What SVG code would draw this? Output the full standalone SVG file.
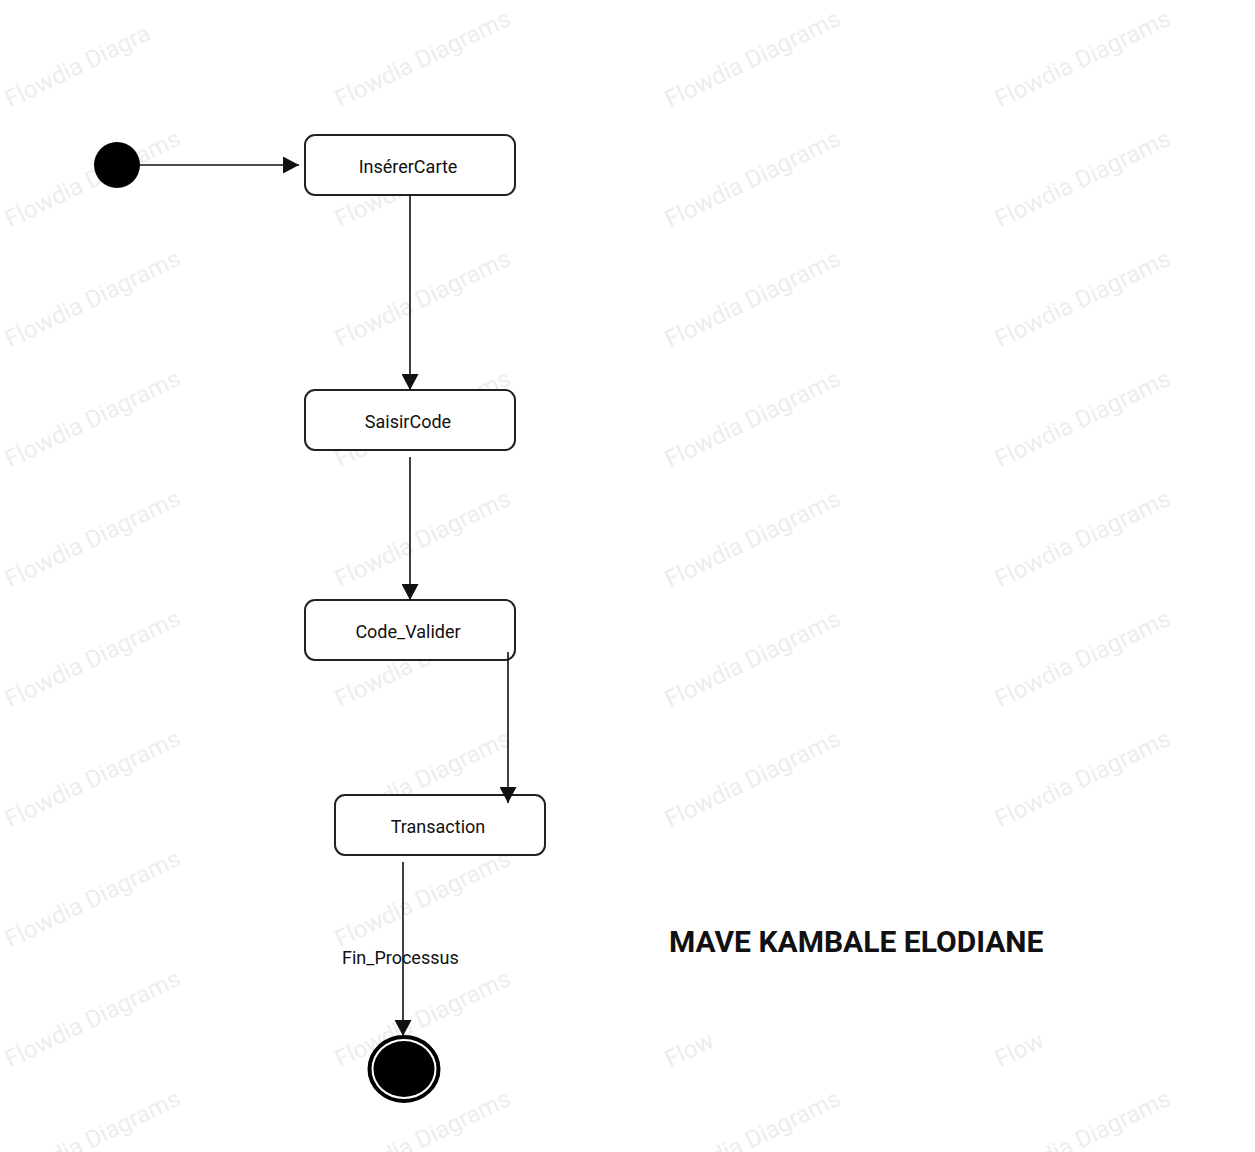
<svg xmlns="http://www.w3.org/2000/svg" width="1255" height="1152" viewBox="0 0 1255 1152">
  <defs>
    <marker id="arrow" markerWidth="16" markerHeight="17" refX="16" refY="8.5" orient="auto" markerUnits="userSpaceOnUse">
      <path d="M0,0 L16,8.5 L0,17 Z" fill="#111"/>
    </marker>
  </defs>
  <style>
    .wm { font-family: Roboto, "Liberation Sans", sans-serif; font-size: 24px; fill: #ededed; }
    .box { fill: #fff; stroke: #222; stroke-width: 2; }
    .lbl { font-family: Roboto, "Liberation Sans", sans-serif; font-size: 18px; fill: #111; text-anchor: middle; }
    .edge { stroke: #111; stroke-width: 1.6; fill: none; marker-end: url(#arrow); }
    .elbl { font-family: Roboto, "Liberation Sans", sans-serif; font-size: 18px; fill: #111; }
    .title { font-family: Roboto, "Liberation Sans", sans-serif; font-size: 30px; font-weight: bold; fill: #111; }
  </style>
  <rect width="1255" height="1152" fill="#fff"/>
  <g id="watermark">
    <text class="wm" transform="translate(10,108) rotate(-26)">Flowdia Diagra</text>
    <text class="wm" transform="translate(340,108) rotate(-26)">Flowdia Diagrams</text>
    <text class="wm" transform="translate(670,108) rotate(-26)">Flowdia Diagrams</text>
    <text class="wm" transform="translate(1000,108) rotate(-26)">Flowdia Diagrams</text>
    <text class="wm" transform="translate(10,228) rotate(-26)">Flowdia Diagrams</text>
    <text class="wm" transform="translate(340,228) rotate(-26)">Flowdia Diagrams</text>
    <text class="wm" transform="translate(670,228) rotate(-26)">Flowdia Diagrams</text>
    <text class="wm" transform="translate(1000,228) rotate(-26)">Flowdia Diagrams</text>
    <text class="wm" transform="translate(10,348) rotate(-26)">Flowdia Diagrams</text>
    <text class="wm" transform="translate(340,348) rotate(-26)">Flowdia Diagrams</text>
    <text class="wm" transform="translate(670,348) rotate(-26)">Flowdia Diagrams</text>
    <text class="wm" transform="translate(1000,348) rotate(-26)">Flowdia Diagrams</text>
    <text class="wm" transform="translate(10,468) rotate(-26)">Flowdia Diagrams</text>
    <text class="wm" transform="translate(340,468) rotate(-26)">Flowdia Diagrams</text>
    <text class="wm" transform="translate(670,468) rotate(-26)">Flowdia Diagrams</text>
    <text class="wm" transform="translate(1000,468) rotate(-26)">Flowdia Diagrams</text>
    <text class="wm" transform="translate(10,588) rotate(-26)">Flowdia Diagrams</text>
    <text class="wm" transform="translate(340,588) rotate(-26)">Flowdia Diagrams</text>
    <text class="wm" transform="translate(670,588) rotate(-26)">Flowdia Diagrams</text>
    <text class="wm" transform="translate(1000,588) rotate(-26)">Flowdia Diagrams</text>
    <text class="wm" transform="translate(10,708) rotate(-26)">Flowdia Diagrams</text>
    <text class="wm" transform="translate(340,708) rotate(-26)">Flowdia Diagrams</text>
    <text class="wm" transform="translate(670,708) rotate(-26)">Flowdia Diagrams</text>
    <text class="wm" transform="translate(1000,708) rotate(-26)">Flowdia Diagrams</text>
    <text class="wm" transform="translate(10,828) rotate(-26)">Flowdia Diagrams</text>
    <text class="wm" transform="translate(340,828) rotate(-26)">Flowdia Diagrams</text>
    <text class="wm" transform="translate(670,828) rotate(-26)">Flowdia Diagrams</text>
    <text class="wm" transform="translate(1000,828) rotate(-26)">Flowdia Diagrams</text>
    <text class="wm" transform="translate(10,948) rotate(-26)">Flowdia Diagrams</text>
    <text class="wm" transform="translate(340,948) rotate(-26)">Flowdia Diagrams</text>
    <text class="wm" transform="translate(10,1068) rotate(-26)">Flowdia Diagrams</text>
    <text class="wm" transform="translate(340,1068) rotate(-26)">Flowdia Diagrams</text>
    <text class="wm" transform="translate(670,1068) rotate(-26)">Flow</text>
    <text class="wm" transform="translate(1000,1068) rotate(-26)">Flow</text>
    <text class="wm" transform="translate(10,1188) rotate(-26)">Flowdia Diagrams</text>
    <text class="wm" transform="translate(340,1188) rotate(-26)">Flowdia Diagrams</text>
    <text class="wm" transform="translate(670,1188) rotate(-26)">Flowdia Diagrams</text>
    <text class="wm" transform="translate(1000,1188) rotate(-26)">Flowdia Diagrams</text>
  </g>
  <g id="start">
    <circle cx="117" cy="165" r="23" fill="#000"/>
  </g>
  <g id="inserer-carte">
    <rect class="box" x="305" y="135" width="210" height="60" rx="10"/>
    <text class="lbl" x="408" y="173">InsérerCarte</text>
  </g>
  <g id="saisir-code">
    <rect class="box" x="305" y="390" width="210" height="60" rx="10"/>
    <text class="lbl" x="408" y="428">SaisirCode</text>
  </g>
  <g id="code-valider">
    <rect class="box" x="305" y="600" width="210" height="60" rx="10"/>
    <text class="lbl" x="408" y="638">Code_Valider</text>
  </g>
  <g id="transaction">
    <rect class="box" x="335" y="795" width="210" height="60" rx="10"/>
    <text class="lbl" x="438" y="833">Transaction</text>
  </g>
  <g id="end">
    <ellipse cx="404" cy="1069" rx="34.5" ry="32" fill="#fff" stroke="#000" stroke-width="4"/>
    <ellipse cx="404" cy="1069" rx="30.5" ry="28" fill="#000"/>
  </g>
  <g id="connectors">
    <line class="edge" x1="140" y1="165" x2="299" y2="165"/>
    <line class="edge" x1="410" y1="195" x2="410" y2="390"/>
    <line class="edge" x1="410" y1="457" x2="410" y2="600"/>
    <line class="edge" x1="508" y1="652" x2="508" y2="803"/>
    <line class="edge" x1="403" y1="862" x2="403" y2="1036"/>
    <text class="elbl" x="342" y="964">Fin_Processus</text>
  </g>
  <g id="title">
    <text class="title" x="669" y="952">MAVE KAMBALE ELODIANE</text>
  </g>
</svg>
